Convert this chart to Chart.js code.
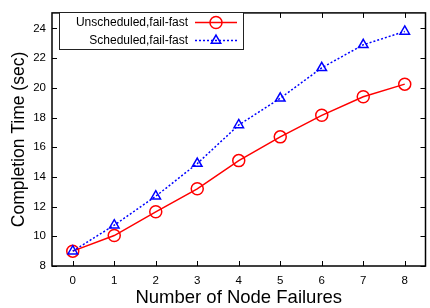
<!DOCTYPE html>
<html>
<head>
<meta charset="utf-8">
<script src="https://cdn.jsdelivr.net/npm/chart.js@4/dist/chart.umd.min.js"></script>
<style>
  html, body { margin: 0; padding: 0; overflow: hidden; background: #fff; }
  canvas { display: block; }
</style>
</head>
<body>
<canvas id="chart" width="433" height="308"></canvas>
<script>
// values
const failures = [0, 1, 2, 3, 4, 5, 6, 7, 8];
const unscheduled = [9.0, 10.05, 11.65, 13.2, 15.1, 16.7, 18.15, 19.4, 20.25];
const scheduled = [9.0, 10.75, 12.7, 14.9, 17.5, 19.3, 21.35, 22.9, 23.8];
const yTicks = [8, 10, 12, 14, 16, 18, 20, 22, 24];
const seriesNames = ['Unscheduled,fail-fast', 'Scheduled,fail-fast'];

const FONT = '"Liberation Sans", Arial, Helvetica, sans-serif';

function points(ys) {
    return failures.map((x, i) => ({ x: x, y: ys[i] }));
}

// gnuplot style frame with inward ticks on all sides, plus the boxed key
const framePlugin = {
    id: 'frame',
    afterDatasetsDraw(chart) {
        const ctx = chart.ctx;
        const a = chart.chartArea;
        const xs = chart.scales.x, ys = chart.scales.y;
        const tl = 5;
        ctx.save();
        ctx.strokeStyle = '#000';
        ctx.lineWidth = 1.5;
        ctx.strokeRect(a.left, a.top, a.right - a.left, a.bottom - a.top);
        ctx.lineWidth = 1;
        ctx.beginPath();
        failures.forEach(v => {
            const px = Math.round(xs.getPixelForValue(v)) + 0.5;
            ctx.moveTo(px, a.bottom); ctx.lineTo(px, a.bottom - tl);
            ctx.moveTo(px, a.top); ctx.lineTo(px, a.top + tl);
        });
        yTicks.forEach(v => {
            const py = Math.round(ys.getPixelForValue(v)) + 0.5;
            ctx.moveTo(a.left, py); ctx.lineTo(a.left + tl, py);
            ctx.moveTo(a.right, py); ctx.lineTo(a.right - tl, py);
        });
        ctx.stroke();

        // key box
        const bx = 59, by = 12, bw = 184, bh = 37;
        ctx.lineWidth = 1;
        ctx.strokeStyle = '#222';
        ctx.fillStyle = '#fff';
        ctx.fillRect(bx, by, bw, bh);
        ctx.strokeRect(bx + 0.5, by + 0.5, bw, bh);
        ctx.font = '12px ' + FONT;
        ctx.textAlign = 'right';
        ctx.textBaseline = 'middle';
        seriesNames.forEach((name, i) => {
            const ds = chart.data.datasets[i];
            const ry = by + 10.5 + i * 18;
            ctx.fillStyle = '#000';
            ctx.fillText(name, 188, ry);
            ctx.save();
            ctx.strokeStyle = ds.borderColor;
            ctx.lineWidth = ds.borderWidth;
            ctx.setLineDash(ds.borderDash || []);
            ctx.beginPath();
            ctx.moveTo(195, ry); ctx.lineTo(237, ry);
            ctx.stroke();
            ctx.setLineDash([]);
            ctx.fillStyle = 'rgba(0,0,0,0)';
            ctx.strokeStyle = ds.pointBorderColor;
            ctx.lineWidth = ds.pointBorderWidth;
            Chart.helpers.drawPoint(ctx, {
                pointStyle: ds.pointStyle, radius: ds.pointRadius,
                rotation: 0, borderWidth: ds.pointBorderWidth
            }, 216, ry);
            ctx.restore();
        });
        ctx.restore();
    }
};

new Chart(document.getElementById('chart'), {
    type: 'line',
    data: {
        datasets: [{
            label: seriesNames[0],
            data: points(unscheduled),
            order: 1,
            borderColor: '#ff0000',
            backgroundColor: 'rgba(0,0,0,0)',
            borderWidth: 1.5,
            pointStyle: 'circle',
            pointRadius: 6,
            pointBorderWidth: 1.5,
            pointBorderColor: '#ff0000',
            pointBackgroundColor: 'rgba(0,0,0,0)',
            tension: 0
        }, {
            label: seriesNames[1],
            data: points(scheduled),
            order: 0,
            borderColor: '#0000ff',
            backgroundColor: 'rgba(0,0,0,0)',
            borderWidth: 1.5,
            borderDash: [2, 2],
            pointStyle: 'triangle',
            pointRadius: 5.5,
            pointBorderWidth: 1.5,
            pointBorderColor: '#0000ff',
            pointBackgroundColor: 'rgba(0,0,0,0)',
            tension: 0
        }]
    },
    options: {
        responsive: false,
        animation: false,
        events: [],
        layout: { padding: { top: 8, left: 0, right: 0, bottom: 0 } },
        plugins: { legend: { display: false }, tooltip: { enabled: false } },
        scales: {
            x: {
                type: 'linear',
                min: -0.5,
                max: 8.5,
                grid: { display: false, drawTicks: false },
                border: { display: false },
                afterBuildTicks: s => { s.ticks = failures.map(v => ({ value: v })); },
                afterFit: s => { s.height = 42; },
                ticks: {
                    color: '#000',
                    padding: 8,
                    font: { family: FONT, size: 11.5 },
                    maxRotation: 0
                },
                title: {
                    display: true,
                    text: 'Number of Node Failures',
                    color: '#000',
                    font: { family: FONT, size: 18.5, lineHeight: 1.1 },
                    padding: { top: 0, bottom: 0 }
                }
            },
            y: {
                min: 8,
                max: 25.05,
                grid: { display: false, drawTicks: false },
                border: { display: false },
                afterBuildTicks: s => { s.ticks = yTicks.map(v => ({ value: v })); },
                afterFit: s => { s.width = 52; },
                ticks: {
                    color: '#000',
                    padding: 6,
                    font: { family: FONT, size: 11.5 }
                },
                title: {
                    display: true,
                    text: 'Completion Time (sec)',
                    color: '#000',
                    font: { family: FONT, size: 17.5 },
                    padding: { top: 9, bottom: 0 }
                }
            }
        }
    },
    plugins: [framePlugin]
});
</script>
</body>
</html>
